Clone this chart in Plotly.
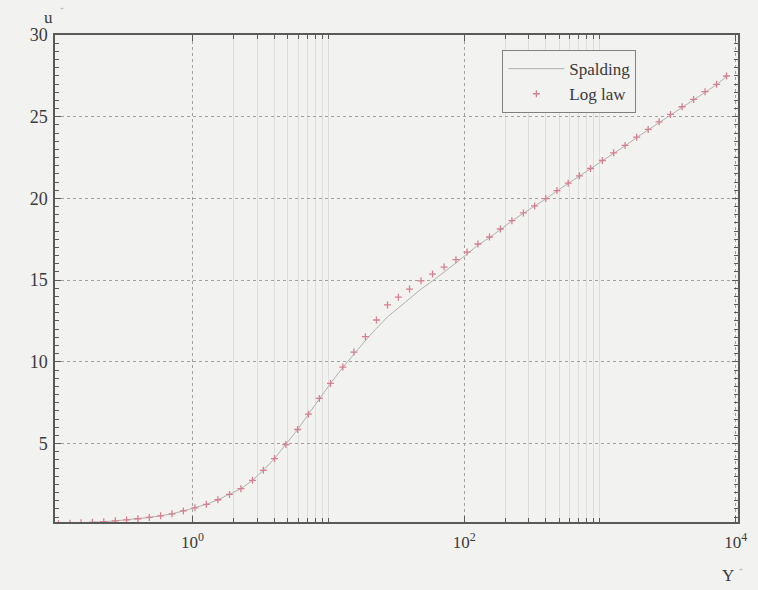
import plotly.graph_objects as go

# ---- data ----
y_plus = [0.103, 0.125, 0.151, 0.183, 0.222, 0.270, 0.327, 0.396, 0.480, 0.582,
          0.706, 0.856, 1.041, 1.264, 1.538, 1.871, 2.272, 2.764, 3.323, 4.014,
          4.867, 5.94, 7.14, 8.59, 10.38, 12.79, 15.43, 18.74, 22.6, 27.27,
          32.79, 39.61, 48.19, 58.52, 71.18, 87.0, 105.1, 126.4, 153.8, 184.9,
          224.9, 273.2, 330.6, 399.5, 482.7, 584.2, 706.1, 853.1, 1043, 1262,
          1533, 1865, 2268, 2727, 3311, 4029, 4899, 5950, 7236, 8557]

u_log_law = [0.10, 0.12, 0.15, 0.18, 0.22, 0.27, 0.33, 0.40, 0.48, 0.58,
             0.70, 0.88, 1.07, 1.28, 1.56, 1.89, 2.24, 2.75, 3.36, 4.08,
             4.94, 5.86, 6.80, 7.76, 8.68, 9.68, 10.60, 11.54, 12.56, 13.48,
             13.96, 14.45, 14.96, 15.37, 15.80, 16.25, 16.72, 17.21, 17.64, 18.13,
             18.64, 19.11, 19.54, 19.99, 20.48, 20.93, 21.38, 21.83, 22.32, 22.79,
             23.24, 23.75, 24.22, 24.69, 25.14, 25.61, 26.06, 26.53, 26.98, 27.49]

u_spalding = [0.10, 0.12, 0.15, 0.18, 0.22, 0.27, 0.33, 0.40, 0.48, 0.58,
              0.70, 0.88, 1.07, 1.28, 1.56, 1.89, 2.24, 2.75, 3.36, 4.08,
              4.94, 5.86, 6.80, 7.76, 8.68, 9.66, 10.50, 11.30, 12.05, 12.75,
              13.30, 13.85, 14.45, 14.95, 15.48, 16.05, 16.60, 17.15, 17.60, 18.10,
              18.62, 19.09, 19.52, 19.97, 20.46, 20.91, 21.36, 21.81, 22.30, 22.77,
              23.22, 23.73, 24.20, 24.67, 25.12, 25.59, 26.04, 26.51, 26.96, 27.47]

x_major_ticks = [1, 100, 10000]
x_major_text = ["10<sup>0</sup>", "10<sup>2</sup>", "10<sup>4</sup>"]
x_minor_ticks = [2, 3, 4, 5, 6, 7, 8, 9, 10, 200, 300, 400, 500, 600, 700, 800, 900, 1000]
y_ticks = [5, 10, 15, 20, 25, 30]

FONT = "Liberation Serif"
BG = "#f2f2f0"
AXIS = "#5a5a5a"
TXT = "#3a3a3a"

fig = go.Figure()
fig.add_trace(go.Scatter(
    x=y_plus, y=u_spalding, mode="lines", name="Spalding",
    line=dict(color="#b0b0b0", width=1)))
fig.add_trace(go.Scatter(
    x=y_plus, y=u_log_law, mode="markers", name="Log law",
    marker=dict(symbol="cross-thin", size=5, color="#d77f90",
                line=dict(color="#d77f90", width=1.3))))

fig.update_layout(
    width=758, height=590,
    margin=dict(l=55, r=11, t=35, b=68),
    paper_bgcolor=BG, plot_bgcolor=BG,
    font=dict(family=FONT, size=17, color=TXT),
    showlegend=True,
    legend=dict(x=0.655, y=0.969, xanchor="left", yanchor="top",
                bgcolor=BG, bordercolor="#808080", borderwidth=1,
                font=dict(family=FONT, size=17, color=TXT),
                itemwidth=56, tracegroupgap=0),
)

fig.update_xaxes(
    type="log", range=[-1.013, 4.017],
    tickmode="array", tickvals=x_major_ticks, ticktext=x_major_text,
    showline=True, linecolor=AXIS, linewidth=1.5, mirror="allticks",
    ticks="inside", ticklen=6, tickcolor=AXIS, ticklabelstandoff=4,
    showgrid=True, gridcolor="#a0a0a0", griddash="dot", gridwidth=1,
    zeroline=False,
    minor=dict(tickmode="array", tickvals=x_minor_ticks, ticks="inside",
               ticklen=4, tickcolor=AXIS, showgrid=True, griddash="solid",
               gridcolor="#dddddd", gridwidth=1),
    tickfont=dict(family=FONT, size=17, color=TXT),
)
fig.update_yaxes(
    range=[0.2, 30],
    tickmode="array", tickvals=y_ticks,
    showline=True, linecolor=AXIS, linewidth=1.5, mirror="allticks",
    ticks="inside", ticklen=6, tickcolor=AXIS, ticklabelstandoff=2,
    showgrid=True, gridcolor="#a0a0a0", griddash="dot", gridwidth=1,
    zeroline=False,
    minor=dict(dtick=0.5, ticks="inside", ticklen=4, tickcolor=AXIS, showgrid=False),
    tickfont=dict(family=FONT, size=18, color=TXT),
)

fig.add_annotation(text="u", xref="paper", yref="paper", x=0.0, y=1.0,
                   yshift=6, showarrow=False, xanchor="right", yanchor="bottom",
                   font=dict(family=FONT, size=17, color=TXT))
fig.add_annotation(text="+", xref="paper", yref="paper", x=0.004, y=1.0,
                   yshift=20, showarrow=False, xanchor="left", yanchor="bottom",
                   font=dict(family=FONT, size=7, color="#aaaaaa"))
fig.add_annotation(text="Y", xref="paper", yref="paper", x=0.997, y=0.0,
                   yshift=-42, showarrow=False, xanchor="right", yanchor="top",
                   font=dict(family=FONT, size=17, color=TXT))
fig.add_annotation(text="+", xref="paper", yref="paper", x=0.999, y=0.0,
                   yshift=-42, showarrow=False, xanchor="left", yanchor="top",
                   font=dict(family=FONT, size=7, color="#aaaaaa"))

fig.write_html("out.html")
